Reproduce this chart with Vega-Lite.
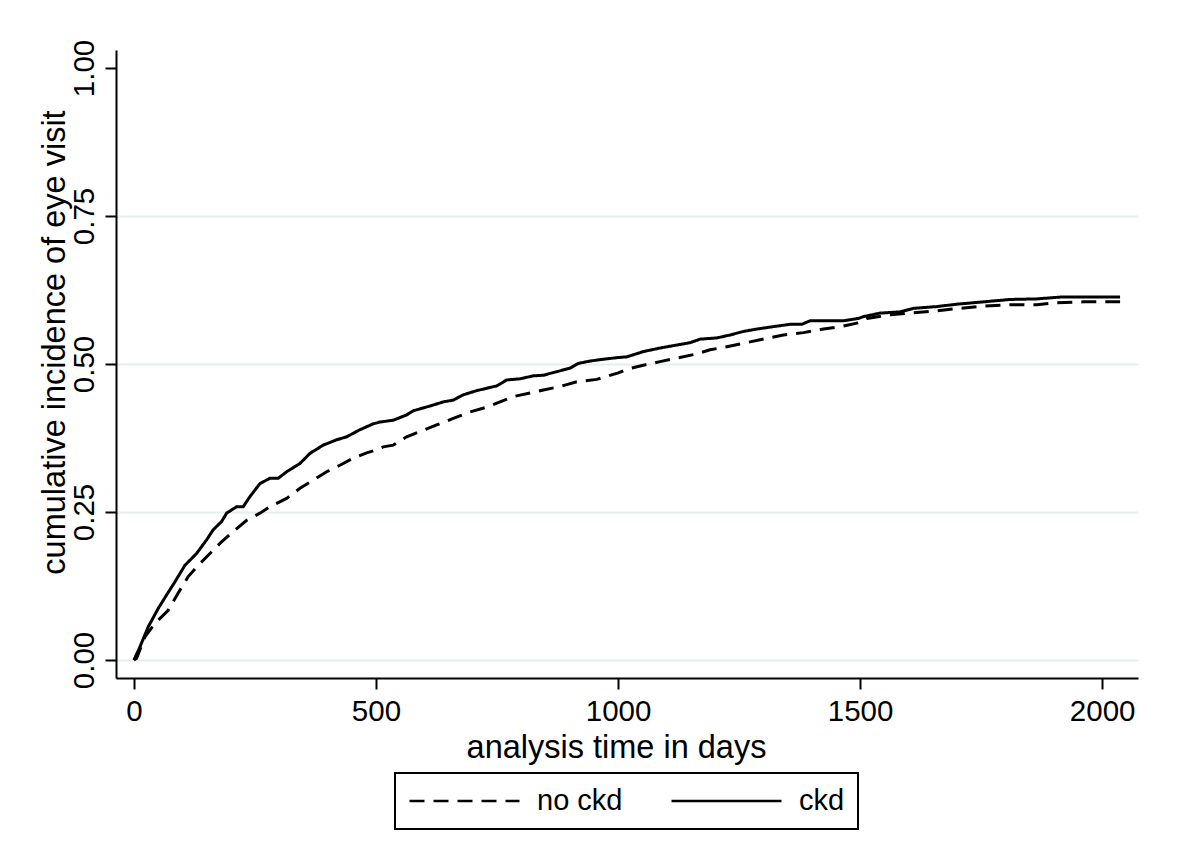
{
  "$schema": "https://vega.github.io/schema/vega-lite/v6.json",
  "width": 1022,
  "height": 628,
  "autosize": {"type": "none"},
  "padding": {"left": 116, "top": 50, "right": 62, "bottom": 165},
  "background": "white",
  "config": {
    "font": "Liberation Sans",
    "view": {"stroke": null},
    "axis": {
      "domainColor": "black",
      "domainWidth": 2,
      "tickColor": "black",
      "tickWidth": 2,
      "tickSize": 11,
      "labelFont": "Liberation Sans",
      "labelFontSize": 29.5,
      "labelColor": "black",
      "titleFont": "Liberation Sans",
      "titleFontSize": 32.5,
      "titleFontWeight": "normal",
      "titleColor": "black",
      "gridWidth": 2
    }
  },
  "data": {
    "values": [
      {"group": "ckd", "day": 0, "value": 0},
      {"group": "ckd", "day": 12.4, "value": 0.022},
      {"group": "ckd", "day": 29.5, "value": 0.056},
      {"group": "ckd", "day": 50.2, "value": 0.087},
      {"group": "ckd", "day": 67.6, "value": 0.11},
      {"group": "ckd", "day": 84.7, "value": 0.132},
      {"group": "ckd", "day": 105.4, "value": 0.16},
      {"group": "ckd", "day": 129.5, "value": 0.18},
      {"group": "ckd", "day": 150.2, "value": 0.203},
      {"group": "ckd", "day": 163.8, "value": 0.22},
      {"group": "ckd", "day": 181.2, "value": 0.234},
      {"group": "ckd", "day": 191.5, "value": 0.248},
      {"group": "ckd", "day": 212.2, "value": 0.259},
      {"group": "ckd", "day": 225.8, "value": 0.259},
      {"group": "ckd", "day": 239.7, "value": 0.276},
      {"group": "ckd", "day": 260.3, "value": 0.298},
      {"group": "ckd", "day": 281.0, "value": 0.307},
      {"group": "ckd", "day": 298.1, "value": 0.307},
      {"group": "ckd", "day": 315.5, "value": 0.318},
      {"group": "ckd", "day": 343.0, "value": 0.332},
      {"group": "ckd", "day": 363.6, "value": 0.349},
      {"group": "ckd", "day": 391.1, "value": 0.363},
      {"group": "ckd", "day": 418.8, "value": 0.372},
      {"group": "ckd", "day": 439.5, "value": 0.377},
      {"group": "ckd", "day": 466.9, "value": 0.389},
      {"group": "ckd", "day": 494.4, "value": 0.399},
      {"group": "ckd", "day": 508.3, "value": 0.402},
      {"group": "ckd", "day": 535.7, "value": 0.405},
      {"group": "ckd", "day": 563.4, "value": 0.414},
      {"group": "ckd", "day": 577.1, "value": 0.421},
      {"group": "ckd", "day": 611.6, "value": 0.429},
      {"group": "ckd", "day": 639.0, "value": 0.436},
      {"group": "ckd", "day": 659.7, "value": 0.439},
      {"group": "ckd", "day": 680.4, "value": 0.448},
      {"group": "ckd", "day": 708.1, "value": 0.455},
      {"group": "ckd", "day": 728.7, "value": 0.459},
      {"group": "ckd", "day": 749.4, "value": 0.463},
      {"group": "ckd", "day": 770.0, "value": 0.473},
      {"group": "ckd", "day": 797.5, "value": 0.475},
      {"group": "ckd", "day": 825.0, "value": 0.48},
      {"group": "ckd", "day": 845.7, "value": 0.481},
      {"group": "ckd", "day": 873.3, "value": 0.487},
      {"group": "ckd", "day": 900.8, "value": 0.493},
      {"group": "ckd", "day": 918.0, "value": 0.501},
      {"group": "ckd", "day": 942.1, "value": 0.505},
      {"group": "ckd", "day": 969.6, "value": 0.508},
      {"group": "ckd", "day": 1000.6, "value": 0.511},
      {"group": "ckd", "day": 1017.9, "value": 0.512},
      {"group": "ckd", "day": 1052.3, "value": 0.521},
      {"group": "ckd", "day": 1086.8, "value": 0.527},
      {"group": "ckd", "day": 1121.3, "value": 0.532},
      {"group": "ckd", "day": 1148.8, "value": 0.536},
      {"group": "ckd", "day": 1169.4, "value": 0.542},
      {"group": "ckd", "day": 1203.9, "value": 0.544},
      {"group": "ckd", "day": 1231.4, "value": 0.549},
      {"group": "ckd", "day": 1258.9, "value": 0.555},
      {"group": "ckd", "day": 1286.6, "value": 0.559},
      {"group": "ckd", "day": 1327.9, "value": 0.564},
      {"group": "ckd", "day": 1355.4, "value": 0.567},
      {"group": "ckd", "day": 1379.5, "value": 0.567},
      {"group": "ckd", "day": 1396.7, "value": 0.573},
      {"group": "ckd", "day": 1431.2, "value": 0.573},
      {"group": "ckd", "day": 1465.5, "value": 0.573},
      {"group": "ckd", "day": 1496.5, "value": 0.577},
      {"group": "ckd", "day": 1506.8, "value": 0.58},
      {"group": "ckd", "day": 1541.3, "value": 0.586},
      {"group": "ckd", "day": 1582.6, "value": 0.588},
      {"group": "ckd", "day": 1610.1, "value": 0.594},
      {"group": "ckd", "day": 1658.5, "value": 0.597},
      {"group": "ckd", "day": 1699.8, "value": 0.601},
      {"group": "ckd", "day": 1754.8, "value": 0.605},
      {"group": "ckd", "day": 1809.9, "value": 0.609},
      {"group": "ckd", "day": 1865.1, "value": 0.61},
      {"group": "ckd", "day": 1913.2, "value": 0.613},
      {"group": "ckd", "day": 1961.4, "value": 0.613},
      {"group": "ckd", "day": 2037, "value": 0.613},
      {"group": "no ckd", "day": 0, "value": 0},
      {"group": "no ckd", "day": 5.6, "value": 0.003},
      {"group": "no ckd", "day": 22.7, "value": 0.039},
      {"group": "no ckd", "day": 43.4, "value": 0.062},
      {"group": "no ckd", "day": 70.9, "value": 0.084},
      {"group": "no ckd", "day": 91.5, "value": 0.113},
      {"group": "no ckd", "day": 112.2, "value": 0.141},
      {"group": "no ckd", "day": 132.9, "value": 0.16},
      {"group": "no ckd", "day": 153.5, "value": 0.177},
      {"group": "no ckd", "day": 177.7, "value": 0.197},
      {"group": "no ckd", "day": 205.2, "value": 0.217},
      {"group": "no ckd", "day": 232.9, "value": 0.236},
      {"group": "no ckd", "day": 260.3, "value": 0.248},
      {"group": "no ckd", "day": 281.0, "value": 0.259},
      {"group": "no ckd", "day": 315.5, "value": 0.273},
      {"group": "no ckd", "day": 343.0, "value": 0.29},
      {"group": "no ckd", "day": 370.5, "value": 0.304},
      {"group": "no ckd", "day": 398.1, "value": 0.318},
      {"group": "no ckd", "day": 425.6, "value": 0.329},
      {"group": "no ckd", "day": 453.1, "value": 0.341},
      {"group": "no ckd", "day": 480.8, "value": 0.35},
      {"group": "no ckd", "day": 497.9, "value": 0.354},
      {"group": "no ckd", "day": 515.1, "value": 0.36},
      {"group": "no ckd", "day": 535.7, "value": 0.363},
      {"group": "no ckd", "day": 563.4, "value": 0.377},
      {"group": "no ckd", "day": 590.9, "value": 0.386},
      {"group": "no ckd", "day": 625.4, "value": 0.397},
      {"group": "no ckd", "day": 659.7, "value": 0.408},
      {"group": "no ckd", "day": 694.2, "value": 0.419},
      {"group": "no ckd", "day": 728.7, "value": 0.427},
      {"group": "no ckd", "day": 756.2, "value": 0.436},
      {"group": "no ckd", "day": 783.7, "value": 0.445},
      {"group": "no ckd", "day": 818.2, "value": 0.451},
      {"group": "no ckd", "day": 845.7, "value": 0.456},
      {"group": "no ckd", "day": 880.2, "value": 0.462},
      {"group": "no ckd", "day": 914.7, "value": 0.47},
      {"group": "no ckd", "day": 956.0, "value": 0.474},
      {"group": "no ckd", "day": 1000.6, "value": 0.485},
      {"group": "no ckd", "day": 1017.9, "value": 0.491},
      {"group": "no ckd", "day": 1052.3, "value": 0.498},
      {"group": "no ckd", "day": 1086.8, "value": 0.504},
      {"group": "no ckd", "day": 1121.3, "value": 0.51},
      {"group": "no ckd", "day": 1162.6, "value": 0.517},
      {"group": "no ckd", "day": 1190.1, "value": 0.524},
      {"group": "no ckd", "day": 1224.6, "value": 0.529},
      {"group": "no ckd", "day": 1258.9, "value": 0.535},
      {"group": "no ckd", "day": 1293.4, "value": 0.541},
      {"group": "no ckd", "day": 1341.5, "value": 0.549},
      {"group": "no ckd", "day": 1382.9, "value": 0.553},
      {"group": "no ckd", "day": 1424.2, "value": 0.559},
      {"group": "no ckd", "day": 1465.5, "value": 0.564},
      {"group": "no ckd", "day": 1493.2, "value": 0.569},
      {"group": "no ckd", "day": 1513.8, "value": 0.577},
      {"group": "no ckd", "day": 1562.0, "value": 0.583},
      {"group": "no ckd", "day": 1603.3, "value": 0.586},
      {"group": "no ckd", "day": 1658.5, "value": 0.59},
      {"group": "no ckd", "day": 1706.6, "value": 0.594},
      {"group": "no ckd", "day": 1754.8, "value": 0.598},
      {"group": "no ckd", "day": 1809.9, "value": 0.6},
      {"group": "no ckd", "day": 1865.1, "value": 0.6},
      {"group": "no ckd", "day": 1899.4, "value": 0.603},
      {"group": "no ckd", "day": 1961.4, "value": 0.605},
      {"group": "no ckd", "day": 2037, "value": 0.605}
    ]
  },
  "mark": {"type": "line", "color": "black", "strokeWidth": 3, "interpolate": "linear"},
  "encoding": {
    "x": {
      "field": "day",
      "type": "quantitative",
      "scale": {"domain": [-37, 2074], "nice": false, "zero": false},
      "axis": {
        "values": [0, 500, 1000, 1500, 2000],
        "format": "d",
        "grid": false,
        "labelPadding": 8,
        "labelFlush": false,
        "title": "analysis time in days",
        "titleX": 500,
        "titleY": 79,
        "titleBaseline": "alphabetic",
        "titleAnchor": "middle",
        "titleAlign": "center"
      }
    },
    "y": {
      "field": "value",
      "type": "quantitative",
      "scale": {"domain": [-0.0304, 1.0304], "nice": false, "zero": false},
      "axis": {
        "values": [0, 0.25, 0.5, 0.75, 1],
        "format": ".2f",
        "grid": true,
        "gridColor": {"condition": {"test": "datum.value == 1", "value": "transparent"}, "value": "#e5eeef"},
        "labelAngle": -90,
        "labelAlign": "center",
        "labelBaseline": "alphabetic",
        "labelPadding": 12,
        "labelFlush": false,
        "title": "cumulative incidence of eye visit",
        "titleAngle": -90,
        "titleX": -52,
        "titleY": 292,
        "titleBaseline": "alphabetic",
        "titleAlign": "center",
        "titleAnchor": "middle"
      }
    },
    "strokeDash": {
      "field": "group",
      "type": "nominal",
      "scale": {"domain": ["no ckd", "ckd"], "range": [[15, 9], [1, 0]]},
      "legend": {
        "orient": "none",
        "legendX": 279,
        "legendY": 723,
        "direction": "horizontal",
        "title": null,
        "symbolType": "stroke",
        "symbolSize": 12100,
        "symbolStrokeWidth": 2.6,
        "symbolStrokeColor": "black",
        "clipHeight": 30,
        "labelFont": "Liberation Sans",
        "labelFontSize": 29,
        "labelColor": "black",
        "labelOffset": 16,
        "columnPadding": 47,
        "padding": 13,
        "strokeColor": "black",
        "fillColor": "white",
        "cornerRadius": 0,
        "encode": {"legend": {"update": {"strokeWidth": {"value": 2}}}}
      }
    }
  }
}
